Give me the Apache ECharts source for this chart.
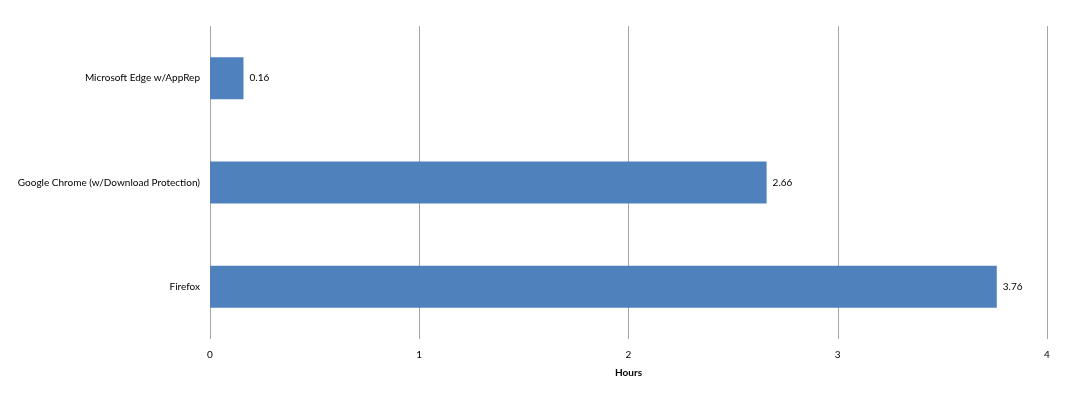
<!DOCTYPE html>
<html><head><meta charset="utf-8">
<script src="https://cdn.jsdelivr.net/npm/echarts@6/dist/echarts.min.js"></script>
<style>html,body{margin:0;padding:0;background:#fff}#c{width:1077px;height:398px}</style>
</head><body><div id="c"></div>
<script>
const categories = ["Microsoft Edge w/AppRep", "Google Chrome (w/Download Protection)", "Firefox"];
const hours = [0.16, 2.66, 3.76];
const xTicks = [0, 1, 2, 3, 4];
const axisTitle = "Hours";

const chart = echarts.init(document.getElementById('c'), null, {renderer: 'canvas'});
chart.setOption({
  animation: false,
  grid: {left: 210, right: 30, top: 26, height: 313, containLabel: false},
  xAxis: {
    type: 'value', min: 0, max: 4, interval: 1,
    name: axisTitle, nameLocation: 'middle', nameGap: 29,
    nameTextStyle: {fontFamily: 'Lato', fontSize: 10, fontWeight: 'bold', color: '#000'},
    axisLine: {show: false}, axisTick: {show: false},
    axisLabel: {fontFamily: 'Lato', fontSize: 10, color: '#000', margin: 11,
      formatter: v => xTicks.includes(v) ? String(v) : ''},
    splitLine: {show: true, lineStyle: {color: '#a6a6a6', width: 1}}
  },
  yAxis: {
    type: 'category', data: categories, inverse: true,
    axisLine: {show: false}, axisTick: {show: false},
    axisLabel: {fontFamily: 'Lato', fontSize: 10, color: '#000', margin: 10}
  },
  series: [{
    type: 'bar', data: hours, barWidth: 42,
    itemStyle: {color: '#4f81bd'},
    label: {show: true, position: 'right', distance: 6, fontFamily: 'Lato', fontSize: 10, color: '#000',
      formatter: p => p.value.toFixed(2)}
  }]
});
</script></body></html>
